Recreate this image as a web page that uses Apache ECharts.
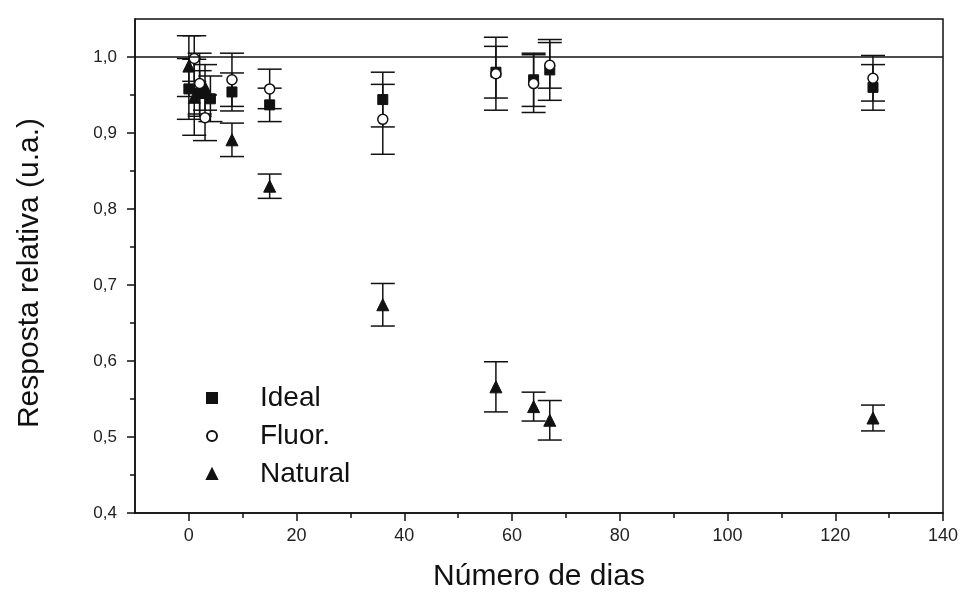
<!DOCTYPE html>
<html>
<head>
<meta charset="utf-8">
<script src="https://cdn.jsdelivr.net/npm/echarts@6/dist/echarts.min.js"></script>
<style>html,body{margin:0;padding:0;background:#fff}#c{width:962px;height:592px}</style>
</head>
<body>
<div id="c"></div>
<script>
// ---- data ----
const idealDays   = [0, 2, 4, 8, 15, 36, 57, 64, 67, 127];
const idealVals   = [0.958, 0.952, 0.945, 0.954, 0.937, 0.944, 0.980, 0.970, 0.983, 0.960];
const idealErr    = [0.040, 0.030, 0.030, 0.025, 0.022, 0.036, 0.034, 0.035, 0.040, 0.030];

const fluorDays   = [1, 2, 3, 8, 15, 36, 57, 64, 67, 127];
const fluorVals   = [0.998, 0.965, 0.920, 0.970, 0.958, 0.918, 0.978, 0.965, 0.989, 0.972];
const fluorErr    = [0.030, 0.040, 0.030, 0.035, 0.026, 0.046, 0.048, 0.038, 0.030, 0.030];

const naturalDays = [0, 1, 3, 8, 15, 36, 57, 64, 67, 127];
const naturalVals = [0.988, 0.947, 0.960, 0.891, 0.830, 0.674, 0.566, 0.540, 0.522, 0.525];
const naturalErr  = [0.040, 0.050, 0.030, 0.022, 0.016, 0.028, 0.033, 0.019, 0.026, 0.017];

const xMajorTicks = [0, 20, 40, 60, 80, 100, 120, 140];
const xMinorTicks = [10, 30, 50, 70, 90, 110, 130];
const yMajorTicks = [0.4, 0.5, 0.6, 0.7, 0.8, 0.9, 1.0];
const yMinorTicks = [0.45, 0.55, 0.65, 0.75, 0.85, 0.95];
const refLine = 1.0;

// ---- build ----
const INK = '#111';
const FONT = "'Liberation Sans', Arial, sans-serif";
function pts(d, v) { return d.map((x, i) => [x, v[i]]); }
function bars(d, v, e) { return d.map((x, i) => [x, v[i] - e[i], v[i] + e[i]]); }

function errRender(params, api) {
  const x = api.value(0);
  const lo = api.coord([x, api.value(1)]);
  const hi = api.coord([x, api.value(2)]);
  const hw = 12;
  const st = { stroke: INK, lineWidth: 1.5 };
  return {
    type: 'group',
    children: [
      { type: 'line', shape: { x1: lo[0], y1: lo[1], x2: hi[0], y2: hi[1] }, style: st },
      { type: 'line', shape: { x1: lo[0] - hw, y1: lo[1], x2: lo[0] + hw, y2: lo[1] }, style: st },
      { type: 'line', shape: { x1: hi[0] - hw, y1: hi[1], x2: hi[0] + hw, y2: hi[1] }, style: st }
    ]
  };
}
function errSeries(data) {
  return { type: 'custom', renderItem: errRender, data: data, encode: { x: 0, y: [1, 2] }, z: 1, silent: true };
}

const chart = echarts.init(document.getElementById('c'), null, { renderer: 'canvas' });
chart.setOption({
  animation: false,
  backgroundColor: '#fff',
  textStyle: { fontFamily: FONT },
  grid: { left: 135, right: 19, top: 19, bottom: 79, containLabel: false, outerBoundsMode: 'none',
    show: true, borderColor: INK, borderWidth: 1.5, backgroundColor: 'transparent' },
  legend: {
    orient: 'vertical', left: 201, top: 378, itemGap: 8,
    itemWidth: 10, itemHeight: 10,
    textStyle: { fontSize: 28, color: '#111', fontFamily: FONT, padding: [0, 0, 0, 38], lineHeight: 30 },
    data: ['Ideal', 'Fluor.', 'Natural']
  },
  xAxis: [{
    type: 'value', min: -10, max: 140,
    name: 'Número de dias', nameLocation: 'middle', nameGap: 49,
    nameTextStyle: { fontSize: 30, color: '#111', fontFamily: FONT },
    axisLine: { show: true, onZero: false, lineStyle: { color: INK, width: 1.5 } },
    axisTick: { show: true, customValues: xMajorTicks, length: 8, lineStyle: { color: INK, width: 1.5 } },
    axisLabel: { customValues: xMajorTicks, fontSize: 18, color: '#222', margin: 14, fontFamily: FONT },
    splitLine: { show: false }
  }, {
    type: 'value', min: -10, max: 140, position: 'bottom',
    axisLine: { show: false, onZero: false },
    axisTick: { show: true, customValues: xMinorTicks, length: 5, lineStyle: { color: INK, width: 1.5 } },
    axisLabel: { show: false },
    splitLine: { show: false }
  }],
  yAxis: [{
    type: 'value', min: 0.4, max: 1.05,
    name: 'Resposta relativa (u.a.)', nameLocation: 'middle', nameGap: 90,
    nameTextStyle: { fontSize: 30, color: '#111', fontFamily: FONT, padding: [0, 14, 0, 0] },
    axisLine: { show: true, onZero: false, lineStyle: { color: INK, width: 1.5 } },
    axisTick: { show: true, customValues: yMajorTicks, length: 8, lineStyle: { color: INK, width: 1.5 } },
    axisLabel: { customValues: yMajorTicks, fontSize: 17, color: '#222', margin: 18, fontFamily: FONT,
      formatter: v => v.toFixed(1).replace('.', ',') },
    splitLine: { show: false }
  }, {
    type: 'value', min: 0.4, max: 1.05, position: 'left',
    axisLine: { show: false, onZero: false },
    axisTick: { show: true, customValues: yMinorTicks, length: 5, lineStyle: { color: INK, width: 1.5 } },
    axisLabel: { show: false },
    splitLine: { show: false }
  }],
  series: [
    errSeries(bars(idealDays, idealVals, idealErr)),
    errSeries(bars(fluorDays, fluorVals, fluorErr)),
    errSeries(bars(naturalDays, naturalVals, naturalErr)),
    {
      name: 'Ideal', type: 'scatter', symbol: 'rect', symbolSize: 10, z: 3,
      itemStyle: { color: INK, borderColor: INK, borderWidth: 1, opacity: 1 },
      data: pts(idealDays, idealVals),
      markLine: {
        silent: true, symbol: 'none', label: { show: false },
        lineStyle: { color: INK, width: 1.5, type: 'solid' },
        data: [{ yAxis: refLine }]
      }
    },
    {
      name: 'Fluor.', type: 'scatter', symbol: 'circle', symbolSize: 10, z: 4,
      itemStyle: { color: '#fff', borderColor: INK, borderWidth: 1.5, opacity: 1 },
      data: pts(fluorDays, fluorVals)
    },
    {
      name: 'Natural', type: 'scatter', symbol: 'triangle', symbolSize: 12, z: 3,
      itemStyle: { color: '#111', borderColor: INK, borderWidth: 1, opacity: 1 },
      data: pts(naturalDays, naturalVals)
    }
  ]
});
</script>
</body>
</html>
